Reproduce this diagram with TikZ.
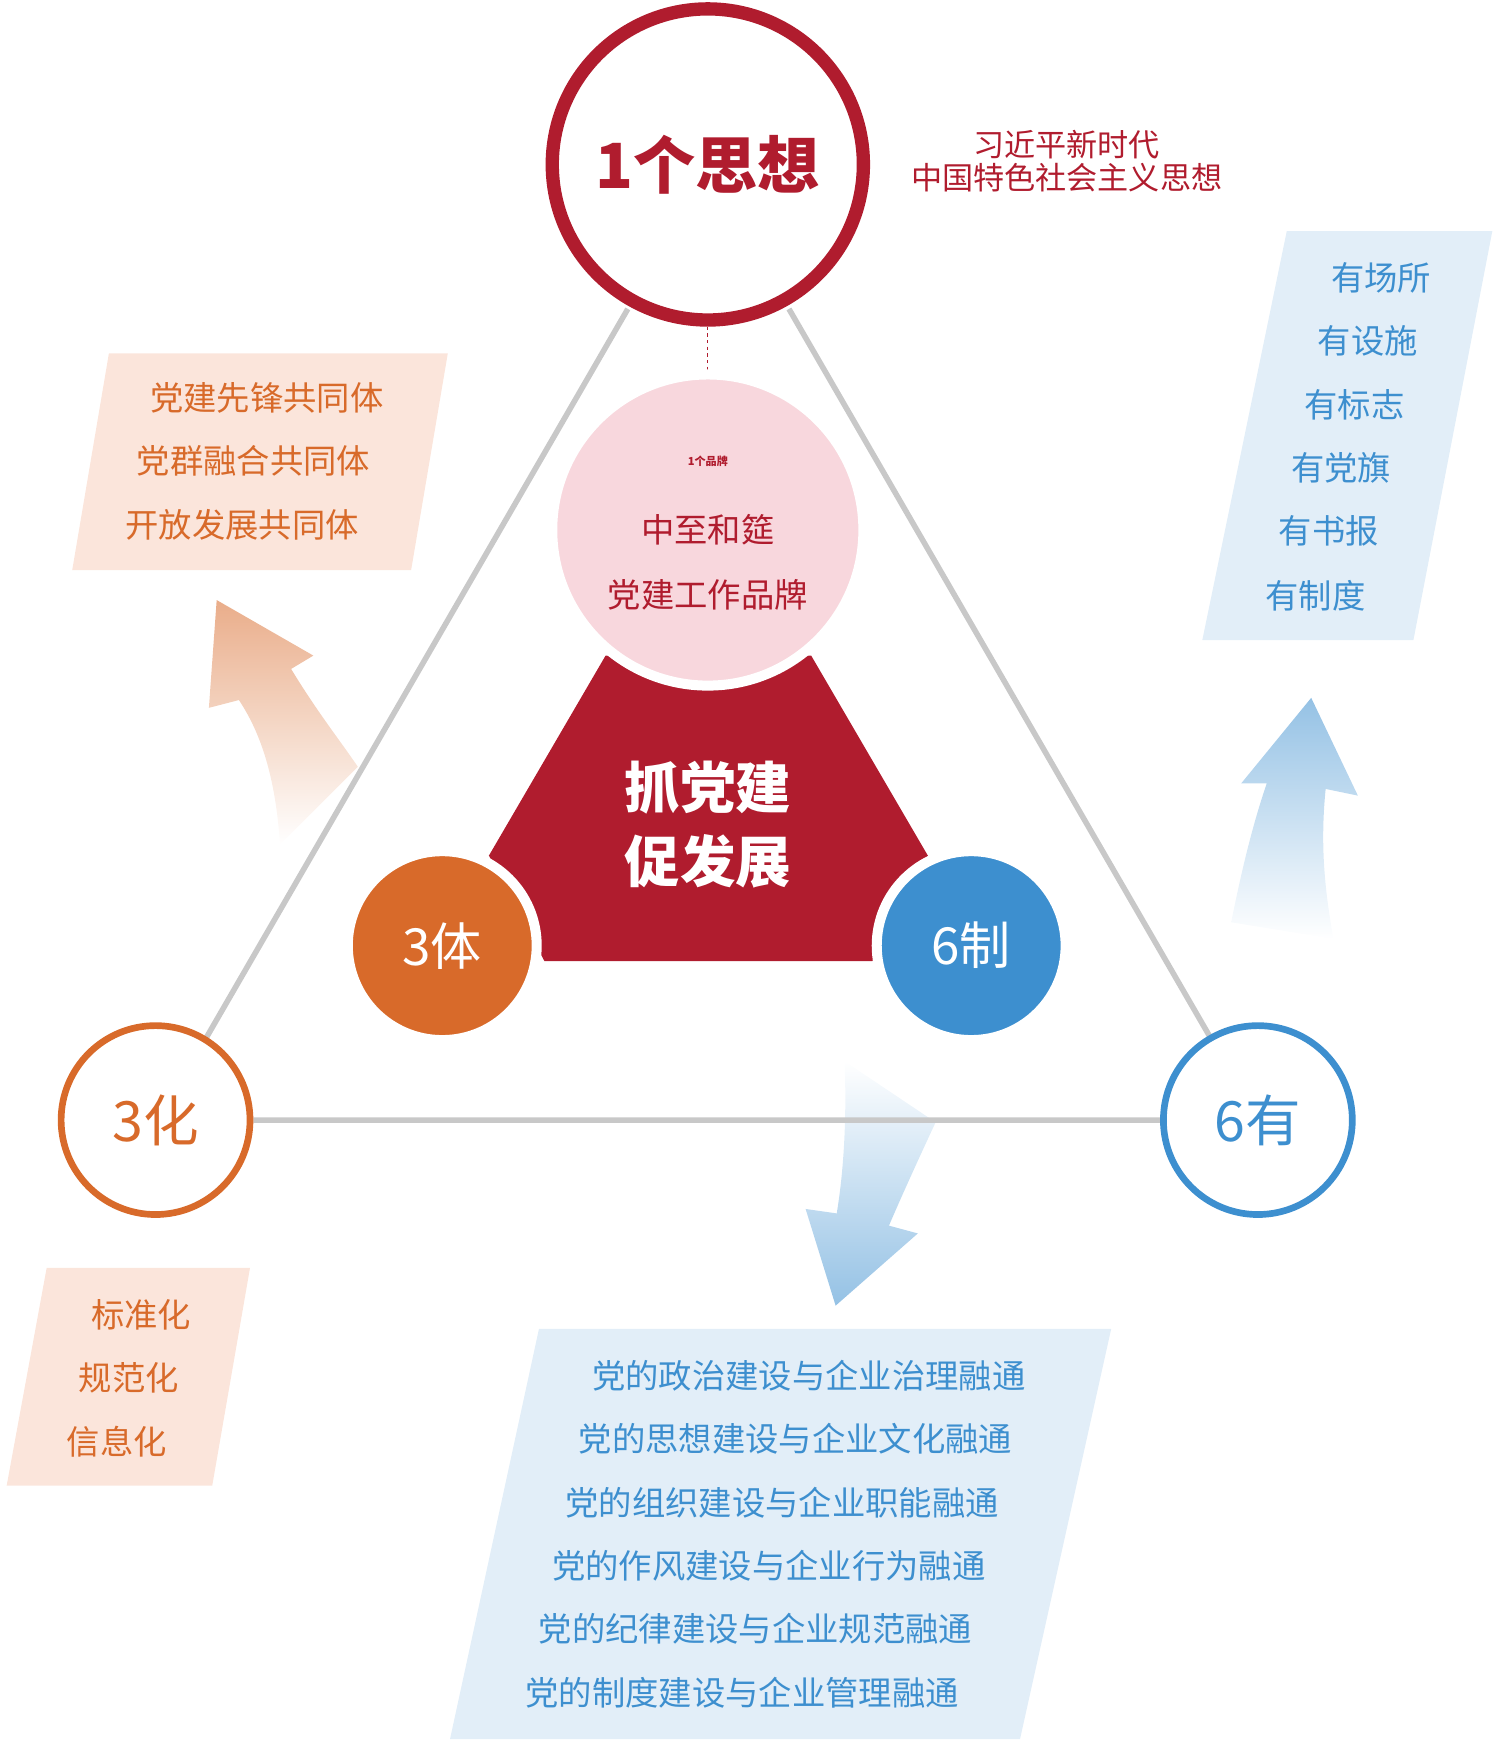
\documentclass[tikz,border=0pt]{standalone}
\usepackage{fontspec}
\setmainfont{Noto Sans CJK SC}
\usetikzlibrary{shadings}
\definecolor{dred}{HTML}{B01C2E}
\definecolor{ora}{HTML}{D86A2A}
\definecolor{blu}{HTML}{3D8FCF}
\definecolor{pinkf}{HTML}{F8D7DD}
\definecolor{orabox}{HTML}{FBE5DB}
\definecolor{blubox}{HTML}{E2EEF8}
\definecolor{gline}{HTML}{C8C8C8}
\tikzset{
 fs/.style={font=\fontsize{#1}{#1}\selectfont},
 otxt/.style={text=ora,fs=30},
 btxt/.style={text=blu,fs=30},
}
\begin{document}
\begin{tikzpicture}[x=1pt,y=-1pt]
\useasboundingbox (0,0) rectangle (1350,1574);
% boxes
\fill[orabox] (98,318)--(403,318)--(370,513)--(65,513)--cycle;
\fill[blubox] (1158,208)--(1343,208)--(1272,576)--(1082,576)--cycle;
\fill[orabox] (42,1141)--(225,1141)--(191,1337)--(6,1337)--cycle;
\fill[blubox] (485,1196)--(1000,1196)--(918,1565)--(405,1565)--cycle;
% arrows
\shade[top color=ora!55,bottom color=white] (195,540)--(282,590)--(262,602) .. controls (285,640) and (305,665) .. (322,690)--(252,760) .. controls (248,700) and (235,660) .. (215,630)--(188,637)--cycle;
\shade[top color=blu!55,bottom color=white] (1180,628)--(1222,716)--(1193,710) .. controls (1188,760) and (1192,800) .. (1200,845)--(1108,830) .. controls (1118,780) and (1128,740) .. (1140,705)--(1117,705)--cycle;
\shade[bottom color=blu!55,top color=white] (752,1175)--(725,1088)--(753,1092) .. controls (760,1050) and (762,1000) .. (760,955)--(842,1010) .. controls (828,1040) and (812,1075) .. (800,1103)--(826,1110)--cycle;
% triangle
\coordinate (t1) at (565,278); \coordinate (t2) at (710,278);
\coordinate (l1) at (185,935); \coordinate (r1) at (1090,935);
\coordinate (b1) at (228,1008); \coordinate (b2) at (1047,1008);
\draw[gline,line width=5] (t1)--(l1) (t2)--(r1) (b1)--(b2);
% top circle
\node[circle,draw=dred,line width=12,fill=white,minimum size=280,inner sep=0,text=dred,font=\fontsize{56}{56}\selectfont\bfseries] (top) at (637,148) {1个思想};
\node[text=dred,fs=28,align=center] (topt) at (960,145) {习近平新时代\\[2pt]中国特色社会主义思想};
\draw[dred,dashed,line width=1.2] (top.south) -- (637,340);
% red shape
\fill[dred] (545,590)--(730,590)--(835,770)--(785,865)--(490,865)--(440,770)--cycle;
\node[circle,fill=pinkf,draw=white,line width=9,minimum size=280,inner sep=0] (brand) at (637,477) {};
\node[text=dred,fs=42,font=\bfseries] (bt) at (637,415) {1个品牌};
\node[text=dred,fs=30] (b2t) at (637,477) {中至和筵};
\node[text=dred,fs=30] (b3t) at (637,535) {党建工作品牌};
\node[text=white,align=center,font=\fontsize{50}{66}\selectfont\bfseries] (core) at (637,742) {抓党建\\促发展};
\node[circle,fill=ora,draw=white,line width=9,minimum size=170,inner sep=0,text=white,fs=46] (ti) at (398,851) {3体};
\node[circle,fill=blu,draw=white,line width=9,minimum size=170,inner sep=0,text=white,fs=46] (zhi) at (874,851) {6制};
% corner circles
\node[circle,draw=ora,line width=6,fill=white,minimum size=170,inner sep=0,text=ora,fs=50] (hua) at (140,1008) {3化};
\node[circle,draw=blu,line width=6,fill=white,minimum size=170,inner sep=0,text=blu,fs=50] (you) at (1132,1008) {6有};
% texts
\node[otxt] at (240,358) {党建先锋共同体};
\node[otxt] at (228,415) {党群融合共同体};
\node[otxt] at (218,472) {开放发展共同体};
\node[btxt] at (1243,250) {有场所};
\node[btxt] at (1231,307) {有设施};
\node[btxt] at (1219,364) {有标志};
\node[btxt] at (1207,421) {有党旗};
\node[btxt] at (1196,478) {有书报};
\node[btxt] at (1184,536) {有制度};
\node[otxt] at (127,1183) {标准化};
\node[otxt] at (116,1240) {规范化};
\node[otxt] at (105,1297) {信息化};
\node[btxt] at (728,1238) {党的政治建设与企业治理融通};
\node[btxt] at (716,1295) {党的思想建设与企业文化融通};
\node[btxt] at (704,1352) {党的组织建设与企业职能融通};
\node[btxt] at (692,1409) {党的作风建设与企业行为融通};
\node[btxt] at (680,1466) {党的纪律建设与企业规范融通};
\node[btxt] at (668,1523) {党的制度建设与企业管理融通};
\end{tikzpicture}
\end{document}
